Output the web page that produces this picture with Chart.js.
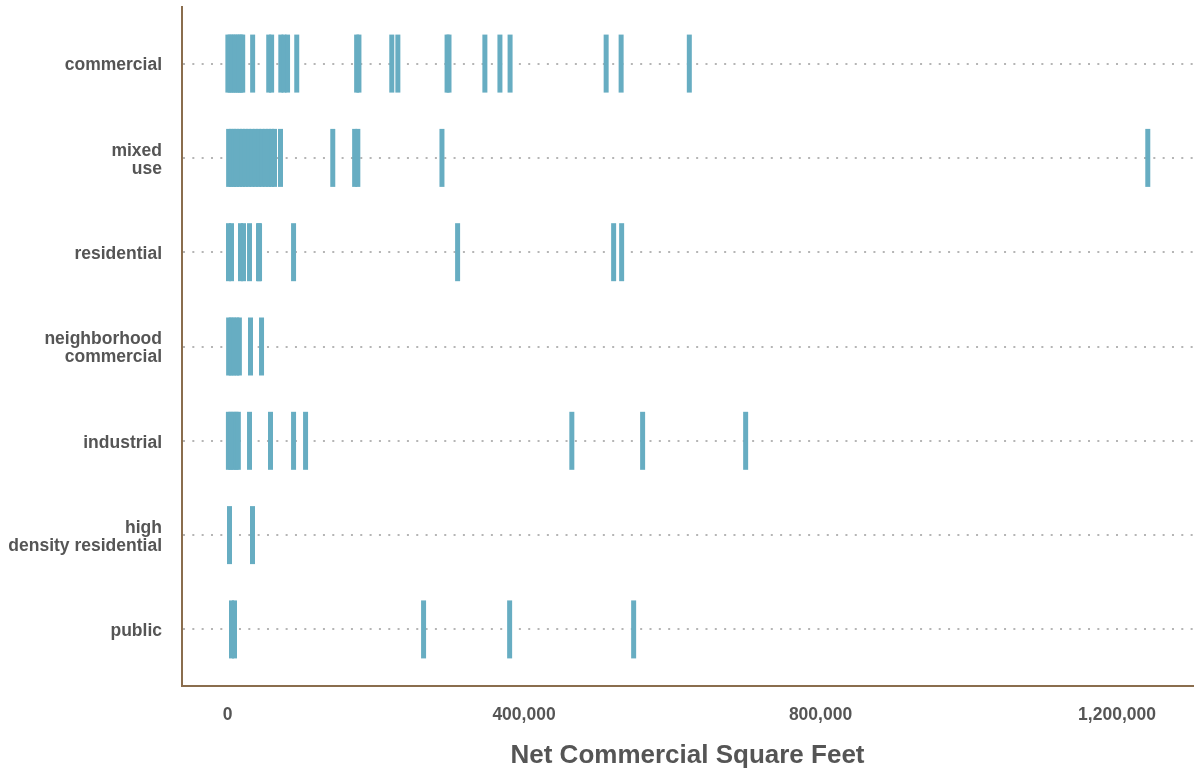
<!DOCTYPE html>
<html><head><meta charset="utf-8">
<script src="https://cdn.jsdelivr.net/npm/chart.js@4"></script>
<style>html,body{margin:0;padding:0;background:#fff}canvas{display:block}</style>
</head><body>
<canvas id="c" width="1197" height="772"></canvas>
<script>
const categories = ["commercial","mixed use","residential","neighborhood commercial","industrial","high density residential","public"];
const categoryLabels = [["commercial"],["mixed","use"],["residential"],["neighborhood","commercial"],["industrial"],["high","density residential"],["public"]];
const xTickValues = [0, 400000, 800000, 1200000];

const commercial = [500, 3500, 6500, 9500, 12500, 15500, 18000, 20500, 33900, 55600, 59500, 71900, 76200, 81000, 93400, 174200, 177300, 221600, 229800, 296200, 298800, 347200, 367500, 381200, 510800, 531000, 623000];
const mixedUse = [1500, 5000, 8500, 12000, 16000, 20000, 24000, 28500, 33000, 37500, 42000, 46500, 51000, 55500, 59500, 63400, 71500, 142000, 171500, 175800, 289300, 1241500];
const residential = [1350, 5400, 17500, 21600, 29700, 41800, 43200, 89100, 310400, 520900, 531700];
const neighborhoodCommercial = [1500, 5000, 8500, 12500, 16000, 31000, 45900];
const industrial = [1200, 4500, 8000, 11500, 14600, 29700, 58000, 89100, 105300, 464500, 560000, 699000];
const highDensityResidential = [2700, 33700];
const publicUse = [5400, 9400, 264500, 380600, 547900];

const seriesValues = [commercial, mixedUse, residential, neighborhoodCommercial, industrial, highDensityResidential, publicUse];

const markColor = '#67adc2';
const axisColor = '#8a6d4d';
const textColor = '#555555';
const fam = "'Liberation Sans', Arial, Helvetica, sans-serif";

const datasets = seriesValues.map((vals, i) => ({
  label: categories[i],
  data: vals.map(v => ({x: v, y: i})),
  pointStyle: 'line',
  rotation: 90,
  pointRadius: 29,
  pointHoverRadius: 29,
  borderWidth: 5,
  pointBorderWidth: 5,
  borderColor: markColor,
  backgroundColor: markColor
}));

new Chart(document.getElementById('c'), {
  type: 'scatter',
  data: {datasets},
  options: {
    responsive: false,
    animation: false,
    events: [],
    layout: {autoPadding: false, padding: {top: 7, right: 4, left: 0, bottom: 0}},
    plugins: {legend: {display: false}, tooltip: {enabled: false}},
    scales: {
      x: {
        type: 'linear',
        min: -61400,
        max: 1302500,
        afterBuildTicks: s => { s.ticks = xTickValues.map(v => ({value: v})); },
        afterFit: s => { s.height = 86; s.paddingLeft = 0; s.paddingRight = 0; },
        grid: {display: false, drawTicks: false},
        border: {display: true, color: axisColor, width: 2},
        ticks: {
          padding: 19, color: textColor, maxRotation: 0, autoSkip: false,
          font: {family: fam, size: 17.5, weight: 'bold'},
          callback: v => Number(v).toLocaleString('en-US')
        },
        title: {
          display: true, text: 'Net Commercial Square Feet', color: textColor,
          font: {family: fam, size: 26, weight: 'bold'},
          padding: {top: 0, bottom: 1}
        }
      },
      y: {
        type: 'linear',
        reverse: true,
        min: -0.6,
        max: 6.6,
        afterBuildTicks: s => { s.ticks = categories.map((c, i) => ({value: i})); },
        afterFit: s => { s.width = 182; s.paddingTop = 0; s.paddingBottom = 0; },
        grid: {color: '#b5b5b5', lineWidth: 2, drawTicks: false},
        border: {display: true, color: axisColor, width: 2, dash: [2, 7.33]},
        ticks: {
          padding: 20, color: textColor, autoSkip: false, labelOffset: 2,
          font: {family: fam, size: 17.5, weight: 'bold', lineHeight: 1.03},
          callback: v => categoryLabels[v]
        }
      }
    }
  }
});
</script>
</body></html>
